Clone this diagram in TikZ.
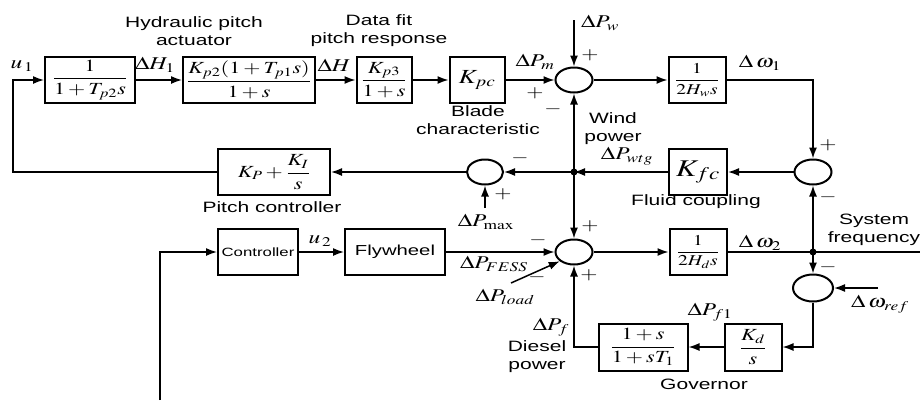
\documentclass[tikz,border=0pt]{standalone}
\usepackage{amsmath}
\usepackage{mathptmx}
\usepackage[no-math]{fontspec}
\newfontfamily\lblfont[FakeStretch=1.4]{Liberation Sans}
\usetikzlibrary{arrows.meta,positioning,shapes.geometric}
\newcommand{\hx}[1]{\scalebox{1.3}[1]{$#1$}}
\tikzset{
  >={Latex[length=11pt,width=8pt]},
  every node/.style={text=black},
  blk/.style={draw,line width=2pt,minimum height=46pt,inner sep=1pt,font=\fontsize{17}{19}\selectfont},
  sumnode/.style={draw,ellipse,line width=2pt,minimum width=37pt,minimum height=25pt,inner sep=0pt},
  wire/.style={line width=1.5pt},
  sig/.style={wire,->},
  txt/.style={font=\lblfont\fontsize{15}{18}\selectfont,align=center,inner sep=0pt},
  mlbl/.style={font=\fontsize{18}{20}\selectfont,inner sep=0pt},
  sgn/.style={font=\fontsize{17}{17}\selectfont,inner sep=0pt},
  jdot/.style={circle,fill,inner sep=0pt,minimum size=7pt}
}

\begin{document}
\begin{tikzpicture}[x=1pt,y=-1pt]
  \useasboundingbox (0,0) rectangle (920,400);

  % wind turbine path
  \node[blk,minimum width=90pt] (trans) at (90,80) {\hx{\dfrac{1}{1+T_{p2}s}}};
  \node[blk,minimum width=132pt] (hyd) at (249,80) {\hx{\dfrac{K_{p2}(1+T_{p1}s)}{1+s}}};
  \node[blk,minimum width=55pt] (fit) at (384,80) {\hx{\dfrac{K_{p3}}{1+s}}};
  \node[blk,minimum width=55pt,font=\fontsize{20}{20}\selectfont] (blade) at (477,80) {\hx{K_{pc}}};
  \node[sumnode] (sumW) at (574,80) {};
  \node[blk,minimum width=57pt,font=\fontsize{15}{17}\selectfont] (inertW) at (697,80) {\hx{\dfrac{1}{2H_{w}s}}};
  \node[sumnode] (sumF) at (813,172) {};
  \node[blk,minimum width=58pt,font=\fontsize{24}{24}\selectfont] (fluid) at (698,172) {\hx{K_{fc}}};
  \coordinate (jW) at (574,172);
  \node[sumnode,minimum width=36pt] (sumP) at (485,172) {};
  \node[blk,minimum width=112pt] (pitch) at (274,172) {\hx{K_{P}+\dfrac{K_{I}}{s}}};
  \coordinate (fbk) at (13,172);

  % flywheel and diesel path
  \node[blk,minimum width=80pt,font=\lblfont\fontsize{12}{14}\selectfont] (ctrl) at (258,252) {Controller};
  \node[blk,minimum width=100pt,font=\lblfont\fontsize{14.5}{16}\selectfont] (fly) at (395,252) {Flywheel};
  \node[sumnode] (sumD) at (574,252) {};
  \node[blk,minimum width=57pt,font=\fontsize{15}{17}\selectfont] (inertD) at (698,252) {\hx{\dfrac{1}{2H_{d}s}}};
  \coordinate (jD) at (813,252);
  \coordinate (sysout) at (920,252);
  \node[sumnode,minimum width=40pt,minimum height=27pt] (sumR) at (813,288) {};
  \node[blk,minimum width=57pt,minimum height=47pt] (gov) at (753,347) {\hx{\dfrac{K_{d}}{s}}};
  \node[blk,minimum width=89pt,minimum height=47pt] (diesel) at (643,347) {\hx{\dfrac{1+s}{1+sT_{1}}}};

  \coordinate (pwin) at (574,20);
  \coordinate (pmaxin) at (485,208);
  \coordinate (loadin) at (511,283);
  \coordinate (refin) at (878,288);
  \coordinate (ctrlin) at (160,400);

  \draw[sig] (trans) -- (hyd);
  \draw[sig] (hyd) -- (fit);
  \draw[sig] (fit) -- (blade);
  \draw[sig] (blade) -- (sumW);
  \draw[sig] (pwin) -- (sumW);
  \draw[sig] (sumW) -- (inertW);
  \draw[sig] (inertW.east) -| (sumF.north);
  \draw[sig] (sumF) -- (fluid);
  \draw[sig] (fluid) -- (jW);
  \draw[sig] (jW) -- (sumW);
  \draw[sig] (jW) -- (sumP);
  \draw[sig] (jW) -- (sumD);
  \draw[sig] (pmaxin) -- (sumP);
  \draw[sig] (sumP) -- (pitch);
  \draw[sig] (pitch.west) -- (fbk) |- (trans.west);
  \draw[sig] (ctrlin) |- (ctrl.west);
  \draw[sig] (ctrl) -- (fly);
  \draw[sig] (fly) -- (sumD);
  \draw[sig] (loadin) -- (sumD.213);
  \draw[sig] (sumD) -- (inertD);
  \draw[wire] (inertD) -- (sysout);
  \draw[sig] (jD) -- (sumF);
  \draw[sig] (jD) -- (sumR);
  \draw[sig] (refin) -- (sumR);
  \draw[sig] (sumR.south) |- (gov.east);
  \draw[sig] (gov) -- (diesel);
  \draw[sig] (diesel.west) -| (sumD.south);
  \node[jdot] at (jW) {};
  \node[jdot] at (jD) {};

  % signal labels
  \node[mlbl] (u1) at (22,66) {\hx{u_{\,1}}};
  \node[mlbl] (dh1) at (155,65) {\hx{\Delta H_{1}}};
  \node[mlbl] (dh) at (334,65) {\hx{\Delta H}};
  \node[mlbl] (dpm) at (535,62) {\hx{\Delta P_{m}}};
  \node[mlbl] (dpw) at (600,23) {\hx{\Delta P_{w}}};
  \node[mlbl] (dw1) at (760,63) {\hx{\Delta\,\omega_{1}}};
  \node[mlbl] (dpwtg) at (627,156) {\hx{\Delta P_{wtg}}};
  \node[mlbl] (dpmax) at (486,222) {\hx{\Delta P_{\max}}};
  \node[mlbl] (u2) at (320,241) {\hx{u_{\,2}}};
  \node[mlbl] (dpfess) at (494,264) {\hx{\Delta P_{FESS}}};
  \node[mlbl] (dpload) at (505,297) {\hx{\Delta P_{load}}};
  \node[mlbl] (dpf) at (551,327) {\hx{\Delta P_{f}}};
  \node[mlbl] (dpf1) at (710,312) {\hx{\Delta P_{f1}}};
  \node[mlbl] (dw2) at (760,243) {\hx{\Delta\,\omega_{2}}};
  \node[mlbl] (dwref) at (880,304) {\hx{\Delta\,\omega_{ref}}};

  % signs
  \node[sgn] (sWa) at (590,55) {\hx{+}};
  \node[sgn] (sWb) at (535,93) {\hx{+}};
  \node[sgn] (sWc) at (553,109) {\hx{-}};
  \node[sgn] (sFa) at (828,145) {\hx{+}};
  \node[sgn] (sFb) at (828,197) {\hx{-}};
  \node[sgn] (sPa) at (520,158) {\hx{-}};
  \node[sgn] (sPb) at (503,194) {\hx{+}};
  \node[sgn] (sDa) at (590,226) {\hx{+}};
  \node[sgn] (sDb) at (538,240) {\hx{-}};
  \node[sgn] (sDc) at (537,277) {\hx{-}};
  \node[sgn] (sDd) at (589,275) {\hx{+}};
  \node[sgn] (sRa) at (828,267) {\hx{-}};

  % block captions
  \node[txt] (hydlbl) at (194,31) {Hydraulic pitch\\actuator};
  \node[txt] (fitlbl) at (379,31) {Data fit\\pitch response};
  \node[txt] (bladelbl) at (478,120) {Blade\\characteristic};
  \node[txt] (windlbl) at (613,129) {Wind\\power};
  \node[txt] (pitchlbl) at (272,207) {Pitch controller};
  \node[txt] (fluidlbl) at (696,202) {Fluid coupling};
  \node[txt] (syslbl) at (874,230) {System\\frequency};
  \node[txt] (diesellbl) at (537,357) {Diesel\\power};
  \node[txt] (govlbl) at (704,384) {Governor};
\end{tikzpicture}
\end{document}
